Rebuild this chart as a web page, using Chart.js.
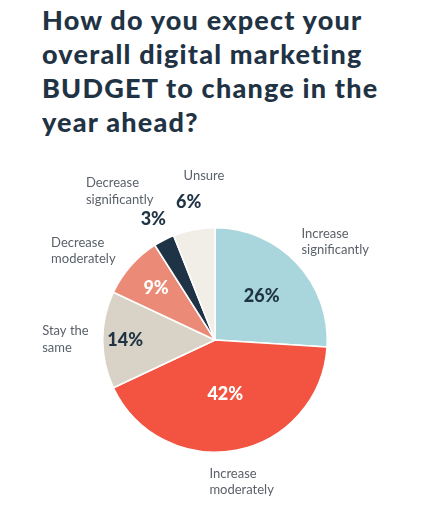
<!DOCTYPE html>
<html>
<head>
<meta charset="utf-8">
<script src="https://cdn.jsdelivr.net/npm/chart.js@4.4.1/dist/chart.umd.min.js"></script>
<style>
  html, body { margin: 0; padding: 0; background: #fff; }
  body { width: 423px; height: 512px; position: relative; overflow: hidden; }
  .title {
    position: absolute; left: 42px; top: 3px; margin: 0;
    font-family: Lato, 'Open Sans', sans-serif; font-weight: 900;
    font-size: 27px; line-height: 34px; letter-spacing: 1.2px; color: #1f3344;
  }
  #budget-pie { position: absolute; left: 0; top: 0; }
</style>
</head>
<body>
<h1 class="title">How do you expect your<br>overall digital marketing<br>BUDGET to change in the<br>year ahead?</h1>
<canvas id="budget-pie" width="423" height="512"></canvas>
<script>
// ── data ──
const categories = [
  ['Increase', 'significantly'],
  ['Increase', 'moderately'],
  ['Stay the', 'same'],
  ['Decrease', 'moderately'],
  ['Decrease', 'significantly'],
  ['Unsure'],
];
const shares = [26, 42, 14, 9, 3, 6];
const sliceColors = ['#a9d6dc', '#f25441', '#d9d2c6', '#eb8b77', '#1f3346', '#f1eee7'];
const valueColors = ['#1f3344', '#ffffff', '#1f3344', '#ffffff', '#1f3344', '#1f3344'];

// where each text sits, in units of the pie radius from its centre
const valueDist = [0.57, 0.49, 0.8, 0.7, 1.21, 1.25];
const nameSpots = [
  { dx: 0.77, dy: -0.95, align: 'left' },
  { dx: -0.05, dy: 1.19, align: 'left' },
  { dx: -1.54, dy: -0.08, align: 'left' },
  { dx: -1.46, dy: -0.87, align: 'left' },
  { dx: -1.15, dy: -1.4, align: 'left' },
  { dx: -0.28, dy: -1.46, align: 'left' },
];

const pieLabels = {
  id: 'pieLabels',
  afterDatasetsDraw(chart) {
    const ctx = chart.ctx;
    const meta = chart.getDatasetMeta(0);
    ctx.save();
    meta.data.forEach((arc, i) => {
      const { x, y, outerRadius, startAngle, endAngle } = arc.getProps(['x', 'y', 'outerRadius', 'startAngle', 'endAngle'], true);
      const mid = (startAngle + endAngle) / 2;
      const r = outerRadius * valueDist[i];
      ctx.fillStyle = valueColors[i];
      ctx.font = '900 18px Lato, sans-serif';
      ctx.textAlign = 'center';
      ctx.textBaseline = 'middle';
      ctx.fillText(shares[i] + '%', x + Math.cos(mid) * r, y + Math.sin(mid) * r);

      const spot = nameSpots[i];
      ctx.fillStyle = '#5b6169';
      ctx.font = '13px Lato, sans-serif';
      ctx.textAlign = spot.align;
      categories[i].forEach((line, j) => {
        ctx.fillText(line, x + spot.dx * outerRadius, y + spot.dy * outerRadius + j * 16.5);
      });
    });
    ctx.restore();
  }
};

new Chart(document.getElementById('budget-pie'), {
  type: 'pie',
  data: {
    labels: categories.map(c => c.join(' ')),
    datasets: [{
      data: shares,
      backgroundColor: sliceColors,
      borderColor: '#ffffff',
      borderWidth: 1.5,
    }],
  },
  options: {
    responsive: false,
    animation: false,
    layout: { padding: { left: 102, right: 95, top: 227, bottom: 59 } },
    plugins: {
      legend: { display: false },
      tooltip: { enabled: false },
    },
  },
  plugins: [pieLabels],
});
</script>
</body>
</html>
